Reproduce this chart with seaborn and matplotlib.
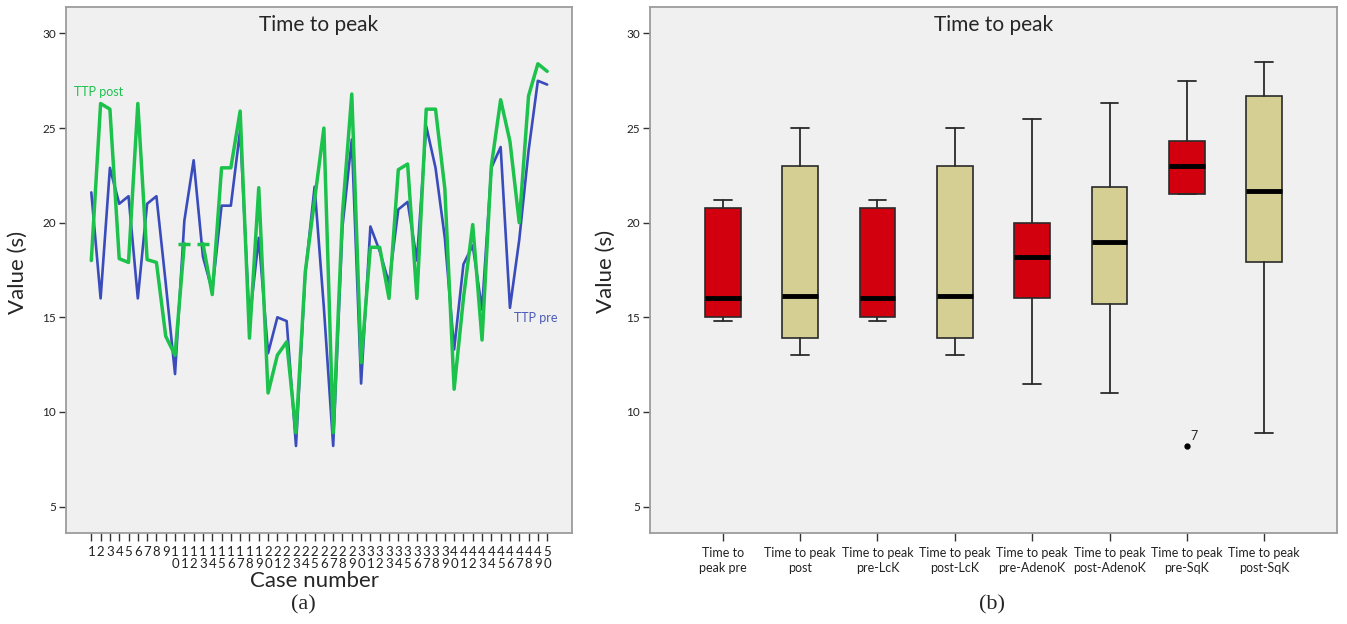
import numpy as np
import pandas as pd
import seaborn as sns
import matplotlib.pyplot as plt

# left panel: time to peak per case (pre / post)
case_number = list(range(1, 51))
ttp_pre = [21.6, 16.0, 22.9, 21.0, 21.4, 16.0, 21.0, 21.4, 16.8, 12.0,
           20.1, 23.3, 18.2, 16.4, 20.9, 20.9, 24.9, 14.8, 19.2, 13.1,
           15.0, 14.8, 8.2, 17.3, 21.9, 15.5, 8.2, 19.8, 24.4, 11.5,
           19.8, 18.5, 16.8, 20.7, 21.1, 18.0, 25.1, 22.9, 19.2, 13.3,
           17.8, 18.8, 15.4, 22.9, 24.0, 15.5, 19.1, 23.8, 27.5, 27.3]
ttp_post = [18.0, 26.3, 26.0, 18.1, 17.9, 26.3, 18.05, 17.9, 14.0, 13.0,
            18.9, np.nan, 18.9, 16.2, 22.9, 22.9, 25.9, 13.9, 21.85, 11.0,
            13.0, 13.7, 8.9, 17.4, 21.2, 25.0, 8.9, 20.5, 26.8, 12.6,
            18.7, 18.7, 16.0, 22.8, 23.1, 16.0, 26.0, 26.0, 21.8, 11.2,
            16.0, 19.9, 13.8, 23.0, 26.5, 24.3, 20.0, 26.7, 28.4, 28.0]

# right panel: box plot summaries
box_labels = ["Time to\npeak pre", "Time to peak\npost", "Time to peak\npre-LcK",
              "Time to peak\npost-LcK", "Time to peak\npre-AdenoK",
              "Time to peak\npost-AdenoK", "Time to peak\npre-SqK",
              "Time to peak\npost-SqK"]
whisker_low = [14.8, 13.0, 14.8, 13.0, 11.5, 11.0, 21.5, 8.9]
quart_1 = [15.0, 13.9, 15.0, 13.9, 16.0, 15.7, 21.5, 17.9]
medians = [16.0, 16.1, 16.0, 16.1, 18.2, 19.0, 23.0, 21.7]
quart_3 = [20.8, 23.0, 20.8, 23.0, 20.0, 21.9, 24.3, 26.7]
whisker_high = [21.2, 25.0, 21.2, 25.0, 25.5, 26.3, 27.5, 28.5]
outliers = [[], [], [], [], [], [], [8.2], []]
outlier_ids = [[], [], [], [], [], [], ["7"], []]

RED = "#d2000f"
KHAKI = "#d6cf94"
BLUE = "#3a4cbc"
GREEN = "#1cc24c"
box_colors = [RED, KHAKI] * 4

sns.set_style("white", {"axes.facecolor": "#f0f0f0", "axes.edgecolor": "#9c9c9c"})
plt.rcParams["font.family"] = ["Lato", "DejaVu Sans"]

W, H = 1347, 624
fig = plt.figure(figsize=(W / 100, H / 100), dpi=100)
ax1 = fig.add_axes([66 / W, 91 / H, 506 / W, 526 / H])
ax2 = fig.add_axes([650 / W, 91 / H, 687 / W, 526 / H])

df = pd.DataFrame({"case": case_number, "TTP pre": ttp_pre, "TTP post": ttp_post})

sns.lineplot(data=df, x="case", y="TTP pre", color=BLUE, lw=1.9, ax=ax1)
# post line breaks where a value is missing
post_ok = df["TTP post"].notna()
runs = df["TTP post"].isna().cumsum()
for _, seg in df[post_ok].groupby(runs[post_ok]):
    sns.lineplot(data=seg, x="case", y="TTP post", color=GREEN, lw=2.5, ax=ax1)
gap_ends = df[post_ok & (df["TTP post"].shift(-1).isna() | df["TTP post"].shift(1).isna())]
gap_ends = gap_ends[(gap_ends["case"] > 1) & (gap_ends["case"] < 50)]
ax1.plot(gap_ends["case"], gap_ends["TTP post"], ls="none", marker="_",
         ms=9, mew=2.5, color=GREEN)

ax1.set_xlim(-1.72, 52.67)
ax1.set_ylim(3.6, 31.4)
ax1.set_yticks([5, 10, 15, 20, 25, 30])
ax1.set_xticks(case_number)
ax1.set_xticklabels([str(c) if c < 10 else f"{str(c)[0]}\n{str(c)[1]}" for c in case_number],
                    linespacing=1.05)
ax1.set_xlabel("")
ax1.set_ylabel("")
ax1.text(0.5, 0.985, "Time to peak", transform=ax1.transAxes, ha="center", va="top", fontsize=15)
ax1.text(-0.85, 26.9, "TTP post", color=GREEN, fontsize=9, ha="left", va="center")
ax1.text(46.4, 14.95, "TTP pre", color="#4a5ab8", fontsize=9, ha="left", va="center")

# box plot from summary stats
stats = []
for i in range(len(box_labels)):
    stats.append({"whislo": whisker_low[i], "q1": quart_1[i], "med": medians[i],
                  "q3": quart_3[i], "whishi": whisker_high[i], "fliers": outliers[i]})
bp = ax2.bxp(stats, positions=range(len(box_labels)), widths=0.46, capwidths=0.23,
             patch_artist=True, showfliers=True,
             boxprops=dict(edgecolor="#2a2a2a", linewidth=1.2),
             medianprops=dict(color="black", linewidth=3.5),
             whiskerprops=dict(color="#2a2a2a", linewidth=1.3),
             capprops=dict(color="#2a2a2a", linewidth=1.3),
             flierprops=dict(marker="o", markersize=3.5, markerfacecolor="black",
                             markeredgecolor="black"))
for patch, col in zip(bp["boxes"], box_colors):
    patch.set_facecolor(col)
for i, ids in enumerate(outlier_ids):
    for val, lab in zip(outliers[i], ids):
        ax2.annotate(lab, (i, val), xytext=(2.5, 3), textcoords="offset points",
                     fontsize=9, ha="left", va="bottom")

ax2.set_xlim(-0.94, 7.94)
ax2.set_ylim(3.6, 31.4)
ax2.set_yticks([5, 10, 15, 20, 25, 30])
ax2.set_xticks(range(len(box_labels)))
ax2.set_xticklabels(box_labels, fontsize=9, linespacing=1.35)
ax2.text(0.5, 0.985, "Time to peak", transform=ax2.transAxes, ha="center", va="top", fontsize=15)

for ax in (ax1, ax2):
    ax.tick_params(axis="both", direction="out", length=5, width=1, color="#333333",
                   labelcolor="#222222", bottom=True, left=True)
    ax.tick_params(axis="y", labelsize=8.5, pad=2)
    for sp in ax.spines.values():
        sp.set_linewidth(1.3)
ax1.tick_params(axis="x", labelsize=9.5, pad=3, length=6)
ax2.tick_params(axis="x", pad=4, length=6)

fig.text(18 / W, 1 - 272 / H, "Value (s)", rotation=90, ha="center", va="center", fontsize=16)
fig.text(606 / W, 1 - 271 / H, "Value (s)", rotation=90, ha="center", va="center", fontsize=16)
fig.text(314 / W, 1 - 581 / H, "Case number", ha="center", va="center", fontsize=16)
fig.text(303 / W, 1 - 605 / H, "(a)", ha="center", va="center", fontsize=16,
         family="Liberation Serif")
fig.text(992 / W, 1 - 605 / H, "(b)", ha="center", va="center", fontsize=16,
         family="Liberation Serif")

fig.savefig("out.png", dpi=100, facecolor="white")
